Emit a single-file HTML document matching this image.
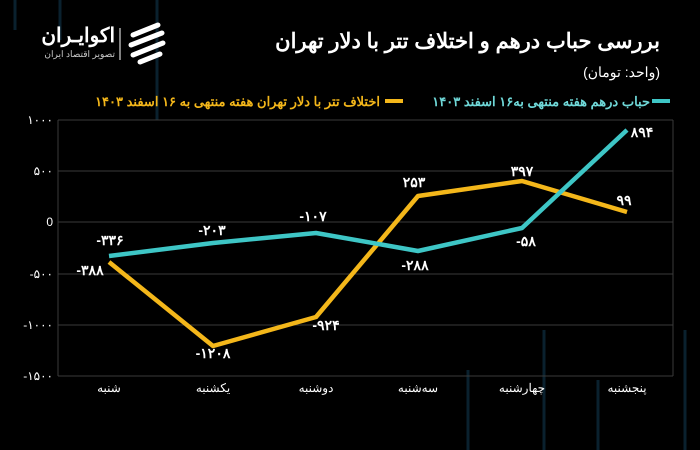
<!DOCTYPE html>
<html><head><meta charset="utf-8"><style>
body{margin:0;background:#000;width:700px;height:450px;overflow:hidden;font-family:"Liberation Sans","Noto Sans CJK SC",sans-serif}
</style></head><body>
<svg width="700" height="450" xmlns="http://www.w3.org/2000/svg" style="display:block">
<rect width="700" height="450" fill="#000"/>
<g stroke="#0d2a3a" stroke-width="3" opacity="0.8">
<line x1="15" y1="0" x2="15" y2="30"/><line x1="60" y1="0" x2="60" y2="40"/><line x1="157" y1="0" x2="157" y2="120"/>
<line x1="544" y1="330" x2="544" y2="450"/><line x1="468" y1="370" x2="468" y2="450"/><line x1="598" y1="380" x2="598" y2="450"/><line x1="685" y1="330" x2="685" y2="450"/>
</g>
<g font-family="Liberation Sans, Noto Sans CJK SC, sans-serif" direction="rtl">
<text x="660" y="48" fill="#fff" font-size="21" font-weight="bold" text-anchor="start">بررسی حباب درهم و اختلاف تتر با دلار تهران</text>
<text x="660" y="77" fill="#fff" font-size="14" text-anchor="start">(واحد: تومان)</text>
<text x="650" y="106" fill="#6fd8d8" font-size="13" font-weight="bold" text-anchor="start">حباب درهم هفته منتهی به۱۶ اسفند ۱۴۰۳</text>
<rect x="652" y="99" width="18" height="4" fill="#3ec6c6"/>
<rect x="385" y="99" width="18" height="4" fill="#f4b71a"/>
<text x="380" y="106" fill="#f4b71a" font-size="13" font-weight="bold" text-anchor="start">اختلاف تتر با دلار تهران هفته منتهی به ۱۶ اسفند ۱۴۰۳</text>
<text x="115" y="42" fill="#fff" font-size="20" font-weight="bold" text-anchor="start">اکوایـران</text>
<text x="115" y="57" fill="#ccc" font-size="9" text-anchor="start">تصویر اقتصاد ایران</text>
</g>
<line x1="120" y1="28" x2="120" y2="60" stroke="#fff" stroke-width="1"/>
<g stroke="#fff" stroke-width="5" fill="none" stroke-linecap="round">
<path d="M133 35 L158 25"/><path d="M131 45 L162 33"/><path d="M133 55 L163 43"/><path d="M140 62 L160 54"/>
</g>
<g stroke="#3a3a3a" stroke-width="1">
<line x1="58" y1="120" x2="673" y2="120"/><line x1="58" y1="171" x2="673" y2="171"/><line x1="58" y1="222" x2="673" y2="222"/>
<line x1="58" y1="274" x2="673" y2="274"/><line x1="58" y1="325" x2="673" y2="325"/><line x1="58" y1="376" x2="673" y2="376"/>
<line x1="58" y1="120" x2="58" y2="376"/><line x1="673" y1="120" x2="673" y2="376"/>
</g>
<g fill="#fff" font-size="12" text-anchor="end" font-family="Liberation Sans, sans-serif">
<text x="53" y="124">۱۰۰۰</text><text x="53" y="175">۵۰۰</text><text x="53" y="226">0</text>
<text x="53" y="278">-۵۰۰</text><text x="53" y="329">-۱۰۰۰</text><text x="53" y="380">-۱۵۰۰</text>
</g>
<g fill="#fff" font-size="12" text-anchor="middle">
<text x="109" y="392">شنبه</text><text x="213" y="392">یکشنبه</text><text x="316" y="392">دوشنبه</text>
<text x="418" y="392">سه‌شنبه</text><text x="522" y="392">چهارشنبه</text><text x="627" y="392">پنجشنبه</text>
</g>
<polyline points="109,262 213,346 316,317 418,196 522,181 627,212" fill="none" stroke="#f4b71a" stroke-width="4.5" stroke-linejoin="round"/>
<polyline points="109,256 213,243 316,233 418,251 522,228 627,130" fill="none" stroke="#3ec6c6" stroke-width="4.5" stroke-linejoin="round"/>
<g fill="#fff" font-size="14" font-weight="bold" text-anchor="middle">
<text x="110" y="245">-۳۳۶</text><text x="212" y="235">-۲۰۳</text><text x="313" y="221">-۱۰۷</text>
<text x="415" y="270">-۲۸۸</text><text x="526" y="246">-۵۸</text><text x="642" y="137">۸۹۴</text>
<text x="90" y="275">-۳۸۸</text><text x="213" y="358">-۱۲۰۸</text><text x="326" y="330">-۹۲۴</text>
<text x="414" y="187">۲۵۳</text><text x="522" y="176">۳۹۷</text><text x="624" y="205">۹۹</text>
</g>
</svg>
</body></html>
